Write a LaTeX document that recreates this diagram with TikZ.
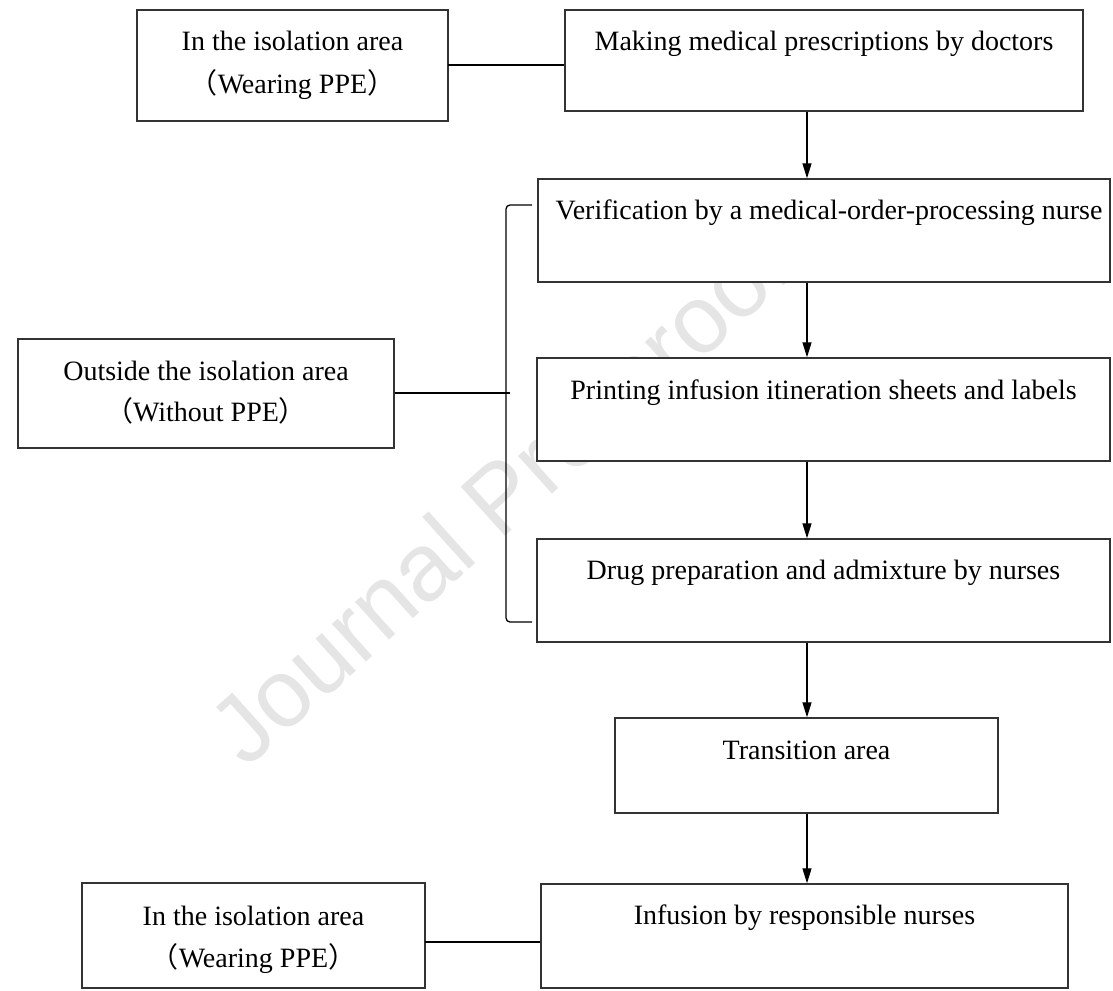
\documentclass[tikz,border=0pt]{standalone}
\usepackage{fontspec}
\setmainfont{Liberation Serif}
\newfontfamily\cjk{Noto Sans CJK SC}
\newfontfamily\wmfont{Liberation Sans}
\usetikzlibrary{arrows.meta}
\begin{document}
\begin{tikzpicture}[x=1pt,y=-1pt,
  box/.style={draw=black!80, line width=1.4pt, fill=white, rectangle, inner sep=0pt},
  txt/.style={font=\fontsize{28}{34}\selectfont, inner sep=0pt, anchor=base},
  conn/.style={draw=black, line width=1.5pt},
  arr/.style={draw=black, line width=1.2pt, -{Triangle[length=15pt,width=9pt]}},
  wm/.style={font=\wmfont\fontsize{96}{96}\selectfont, text=black!10, inner sep=0pt}]
\useasboundingbox (0,0) rectangle (1113,990);
\fill[white] (0,0) rectangle (1113,990);
% watermark
\node[wm, rotate=42, anchor=base west] (wm) at (246,770) {Journal Pre-proof};
% boxes
\node[box, minimum width=311pt, minimum height=111pt] (A) at (292.5,65.5) {};
\node[box, minimum width=518pt, minimum height=101pt] (B) at (824,60.5) {};
\node[box, minimum width=572pt, minimum height=103pt] (C) at (824,230.5) {};
\node[box, minimum width=573pt, minimum height=103pt] (D) at (823.5,409.5) {};
\node[box, minimum width=573pt, minimum height=103pt] (E) at (823.5,590.5) {};
\node[box, minimum width=376pt, minimum height=109pt] (F) at (206,393.5) {};
\node[box, minimum width=383pt, minimum height=95pt] (G) at (806.5,765.5) {};
\node[box, minimum width=527pt, minimum height=104pt] (H) at (804.5,936) {};
\node[box, minimum width=343pt, minimum height=105pt] (I) at (253.5,935.5) {};
% texts
\node[txt] (At1) at (292.5,51) {In the isolation area};
\node[txt] (At2) at (292.5,93) {{\cjk （}Wearing PPE{\cjk ）}};
\node[txt] (Bt) at (824,51) {Making medical prescriptions by doctors};
\node[txt] (Ct) at (829,219) {Verification by a medical-order-processing nurse};
\node[txt] (Dt) at (823.5,399) {Printing infusion itineration sheets and labels};
\node[txt] (Et) at (823.5,579) {Drug preparation and admixture by nurses};
\node[txt] (Ft1) at (206,380) {Outside the isolation area};
\node[txt] (Ft2) at (206,421) {{\cjk （}Without PPE{\cjk ）}};
\node[txt] (Gt) at (806.5,759) {Transition area};
\node[txt] (Ht) at (804.5,924) {Infusion by responsible nurses};
\node[txt] (It1) at (253.5,925) {In the isolation area};
\node[txt] (It2) at (253.5,967) {{\cjk （}Wearing PPE{\cjk ）}};
% side connectors
\coordinate (lAB) at (448,65);
\draw[conn] (lAB) -- (lAB -| B.west);
\coordinate (lIH) at (425,942);
\draw[conn] (lIH) -- (lIH -| H.west);
% bracket
\coordinate (brT) at (532,205);
\coordinate (brB) at (532,622);
\coordinate (brM) at (510,393);
\draw[black, line width=1.3pt, rounded corners=4pt] (brT) -- (506,205) -- (506,622) -- (brB);
\draw[conn] (F.east |- brM) -- (brM);
% arrows
\coordinate (ax) at (807,0);
\draw[arr] (ax |- B.south) -- (ax |- C.north);
\draw[arr] (ax |- C.south) -- (ax |- D.north);
\draw[arr] (ax |- D.south) -- (ax |- E.north);
\draw[arr] (ax |- E.south) -- (ax |- G.north);
\draw[arr] (ax |- G.south) -- (ax |- H.north);
\end{tikzpicture}
\end{document}
